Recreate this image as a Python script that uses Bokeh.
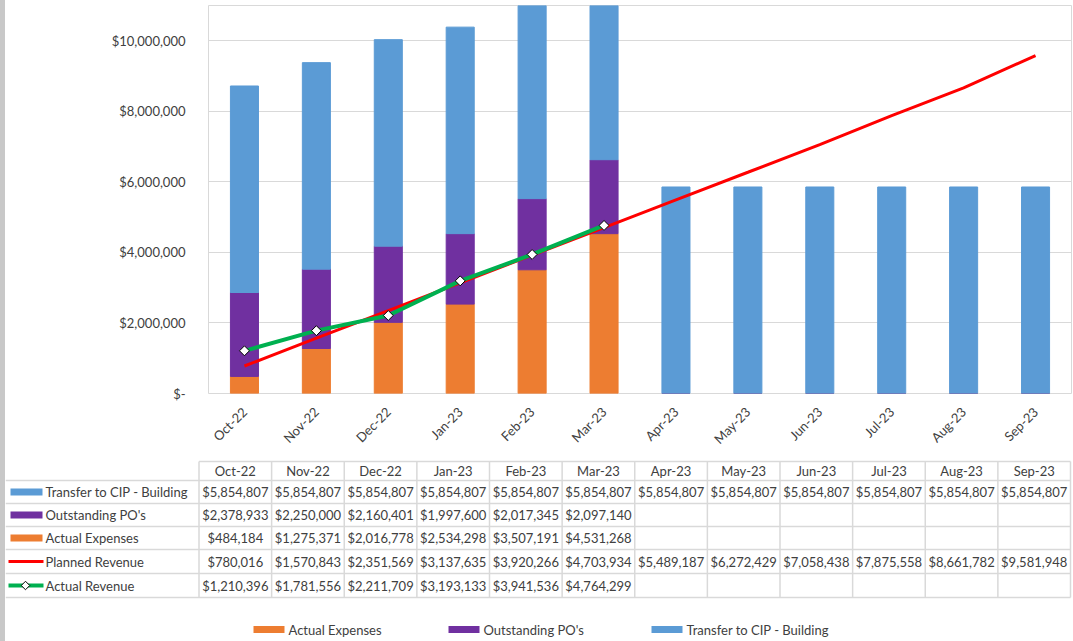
import math
from bokeh.plotting import figure
from bokeh.models import FactorRange, Range1d, FixedTicker, ColumnDataSource, Div
from bokeh.layouts import column, row
from bokeh.core.properties import value
from bokeh.embed import file_html
from bokeh.resources import INLINE

# ---------------- data ----------------
months = ["Oct-22", "Nov-22", "Dec-22", "Jan-23", "Feb-23", "Mar-23",
          "Apr-23", "May-23", "Jun-23", "Jul-23", "Aug-23", "Sep-23"]
transfer_cip = [5854807, 5854807, 5854807, 5854807, 5854807, 5854807,
                5854807, 5854807, 5854807, 5854807, 5854807, 5854807]
outstanding_pos = [2378933, 2250000, 2160401, 1997600, 2017345, 2097140,
                   None, None, None, None, None, None]
actual_expenses = [484184, 1275371, 2016778, 2534298, 3507191, 4531268,
                   None, None, None, None, None, None]
planned_revenue = [780016, 1570843, 2351569, 3137635, 3920266, 4703934,
                   5489187, 6272429, 7058438, 7875558, 8661782, 9581948]
actual_revenue = [1210396, 1781556, 2211709, 3193133, 3941536, 4764299,
                  None, None, None, None, None, None]
y_ticks = [0, 2000000, 4000000, 6000000, 8000000, 10000000]
y_tick_labels = ["$-", "$2,000,000", "$4,000,000", "$6,000,000", "$8,000,000", "$10,000,000"]

row_labels = ["Transfer to CIP - Building", "Outstanding PO's", "Actual Expenses",
              "Planned Revenue", "Actual Revenue"]
legend_labels = ["Actual Expenses", "Outstanding PO's", "Transfer to CIP - Building"]

C_EXP = "#ED7D31"
C_PO = "#7030A0"
C_CIP = "#5B9BD5"
C_PLAN = "#FF0000"
C_ACT = "#00B050"
TXT = "#404040"
GRID = "#d9d9d9"
FONT = "Lato"

STRIP = 5          # grey strip at the left edge
W = 1073 - STRIP   # width of the figures
H1 = 455           # chart figure height
H2 = 641 - H1      # table figure height

# ---------------- chart ----------------
p = figure(width=W, height=H1, x_range=FactorRange(factors=months),
           y_range=Range1d(0, 11000000), output_backend="svg",
           toolbar_location=None, min_border_left=203, min_border_right=2,
           min_border_top=5, min_border_bottom=61, frame_align=False)

src = ColumnDataSource(dict(
    month=months,
    exp=[v if v is not None else 0 for v in actual_expenses],
    po=[v if v is not None else 0 for v in outstanding_pos],
    cip=transfer_cip,
))
p.vbar_stack(["exp", "po", "cip"], x="month", width=0.39, source=src,
             color=[C_EXP, C_PO, C_CIP], line_color=[C_EXP, C_PO, C_CIP])

p.line(months, planned_revenue, line_color=C_PLAN, line_width=3)
act_m = [m for m, v in zip(months, actual_revenue) if v is not None]
act_v = [v for v in actual_revenue if v is not None]
p.line(act_m, act_v, line_color=C_ACT, line_width=4)
p.scatter(act_m, act_v, marker="square", angle=math.pi / 4, size=7,
          fill_color="white", line_color="black", line_width=1)

p.yaxis.ticker = FixedTicker(ticks=y_ticks)
p.yaxis.major_label_overrides = {t: l for t, l in zip(y_ticks, y_tick_labels)}
p.yaxis.minor_tick_line_color = None
p.yaxis.major_tick_line_color = None
p.yaxis.axis_line_color = None
p.yaxis.major_label_standoff = 17
p.xaxis.major_tick_line_color = None
p.xaxis.axis_line_color = None
p.xaxis.major_label_orientation = math.pi / 4
p.xaxis.major_label_standoff = 10
for ax in (p.xaxis, p.yaxis):
    ax.major_label_text_font = FONT
    ax.major_label_text_font_size = "13px"
    ax.major_label_text_color = TXT
p.xgrid.grid_line_color = None
p.ygrid.grid_line_color = GRID
p.ygrid.grid_line_width = 1
p.outline_line_color = GRID
p.outline_line_width = 1
p.background_fill_color = "white"
p.border_fill_color = "white"

# ---------------- data table + legend ----------------
t = figure(width=W, height=H2, x_range=Range1d(0, W), y_range=Range1d(H2, 0),
           output_backend="svg", toolbar_location=None,
           x_axis_location=None, y_axis_location=None,
           min_border=0, min_border_left=0, min_border_right=0,
           min_border_top=0, min_border_bottom=0, frame_align=False)
t.grid.visible = False
t.outline_line_color = None
t.border_fill_color = "white"
t.background_fill_color = "white"

col_x0 = 198.5 - STRIP
cw = (1070 - 198.5) / 12.0
header_top = 6
row_lines = [25, 48, 71, 94, 118, 142]
header_y = 15.5
row_y = [36.5, 59.5, 82.5, 106, 130]

# grid lines of the table
x0s, y0s, x1s, y1s = [], [], [], []
x0s.append(col_x0); x1s.append(col_x0 + 12 * cw); y0s.append(header_top); y1s.append(header_top)
for yl in row_lines:
    x0s.append(0); x1s.append(col_x0 + 12 * cw); y0s.append(yl); y1s.append(yl)
for k in range(13):
    xx = col_x0 + k * cw
    x0s.append(xx); x1s.append(xx); y0s.append(header_top); y1s.append(row_lines[-1])
t.segment(x0s, y0s, x1s, y1s, line_color=GRID, line_width=1.5)

# header
t.text([col_x0 + (i + 0.5) * cw for i in range(12)], [header_y] * 12, months,
       text_font=value(FONT), text_font_size=value("13px"), text_color=TXT,
       text_align="center", text_baseline="middle")

# cells
series = [transfer_cip, outstanding_pos, actual_expenses, planned_revenue, actual_revenue]
cx, cy, ct = [], [], []
for r, s in enumerate(series):
    for c, v in enumerate(s):
        if v is None:
            continue
        cx.append(col_x0 + (c + 0.5) * cw)
        cy.append(row_y[r])
        ct.append("${:,}".format(v))
t.text(cx, cy, ct, text_font=value(FONT), text_font_size=value("13px"),
       text_color=TXT, text_align="center", text_baseline="middle")

# row labels with keys
t.text([45 - STRIP] * 5, row_y, row_labels, text_font=value(FONT),
       text_font_size=value("13px"), text_color=TXT, text_align="left",
       text_baseline="middle")
t.rect([26 - STRIP] * 3, row_y[:3], width=32, height=7,
       fill_color=[C_CIP, C_PO, C_EXP], line_color=None)
t.segment([8 - STRIP], [row_y[3]], [43 - STRIP], [row_y[3]], line_color=C_PLAN, line_width=3)
t.segment([8 - STRIP], [row_y[4]], [43 - STRIP], [row_y[4]], line_color=C_ACT, line_width=4)
t.scatter([25 - STRIP], [row_y[4]], marker="square", angle=math.pi / 4, size=6,
          fill_color="white", line_color="black", line_width=1)

# bottom legend
leg_y = 174
sw_x = [253 - STRIP, 448 - STRIP, 651 - STRIP]
t.rect([x + 15.5 for x in sw_x], [leg_y] * 3, width=31, height=7,
       fill_color=[C_EXP, C_PO, C_CIP], line_color=None)
t.text([x + 35 for x in sw_x], [leg_y] * 3, legend_labels, text_font=value(FONT),
       text_font_size=value("13px"), text_color=TXT, text_align="left",
       text_baseline="middle")

strip = Div(text="", width=STRIP, height=641, margin=0,
            styles={"background-color": "#c8c8c8"})
layout = row(strip, column(p, t, spacing=0), spacing=0)
open("out.html", "w").write(file_html(layout, INLINE))
